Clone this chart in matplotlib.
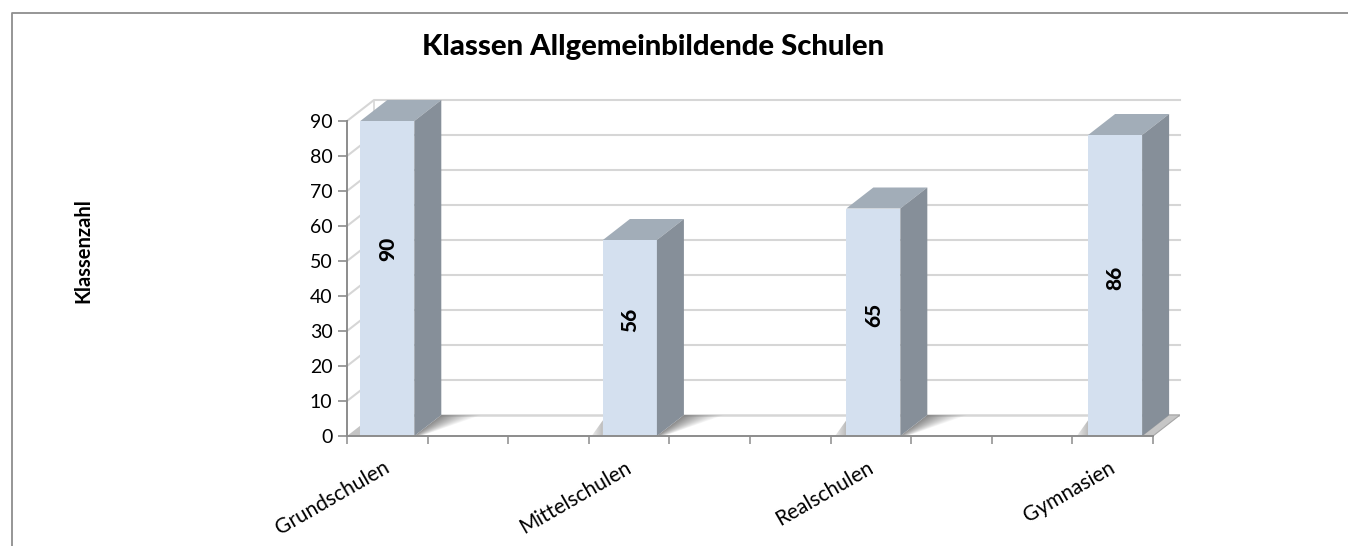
import numpy as np
import matplotlib
matplotlib.use("Agg")
import matplotlib.pyplot as plt
from matplotlib.colors import LinearSegmentedColormap
from matplotlib.patches import Polygon, Rectangle

# Werte
schularten = ["Grundschulen", "Mittelschulen", "Realschulen", "Gymnasien"]
klassen = [90, 56, 65, 86]
positionen = [0, 3.01, 6.03, 9.03]   # dazwischen leere Kategorien
label_y = [53.4, 33.1, 34.6, 45.1]   # Beschriftungen sitzen nicht mittig
n_kategorien = 10
y_ticks = [0, 10, 20, 30, 40, 50, 60, 70, 80, 90]

W, H = 1348, 546
plt.rcParams["font.family"] = ["Lato", "DejaVu Sans"]

fig = plt.figure(figsize=(W / 100, H / 100), dpi=100)

# Achse in Pixeln: x=0 bei 347px, x=10 bei 1153px; y=0 bei 436px, y=90 bei 121px
x0, x1, y0, y90 = 347, 1153, 436, 121
dx_px, dy_px = 27, 21   # Tiefe der 3D-Darstellung
left, right = x0, x1 + dx_px
top = y90 - dy_px
ax = fig.add_axes([left / W, 1 - y0 / H, (right - left) / W, (y0 - top) / H])
px_x = n_kategorien / (x1 - x0)
px_y = 90 / (y0 - y90)
xlim = (0, (right - left) * px_x)
ylim = (0, (y0 - top) * px_y)
dx, dy = dx_px * px_x, dy_px * px_y
xmax = n_kategorien

grid_c = "#D6D6D6"
# Rueckwand, Gitternetz
for v in y_ticks[1:]:
    ax.plot([0, dx, xmax + dx], [v, v + dy, v + dy], color=grid_c, lw=1.5, zorder=1, clip_on=False)
ax.plot([dx, dx], [dy, 90 + dy], color=grid_c, lw=1.2, zorder=1)

# Boden
ax.add_patch(Polygon([(0, 0), (xmax, 0), (xmax + dx, dy), (dx, dy)], fc="#FFFFFF", ec="none", zorder=1.5))
ax.plot([dx, xmax + dx], [dy, dy], color=grid_c, lw=1.8, zorder=2)
ax.add_patch(Polygon([(0, 0), (0.16, 0), (0.16 + dx, dy), (dx, dy)], fc="#C4C4C4", ec="none", zorder=2))
ax.add_patch(Polygon([(xmax - 0.14, 0), (xmax, 0), (xmax + dx, dy), (xmax - 0.14 + dx, dy)],
                     fc="#C6C6C6", ec="#A6A6A6", lw=0.8, zorder=2))

# Schatten neben den Balken, Verlauf schraeg zur Bodenkante
cmap_a = LinearSegmentedColormap.from_list("sha", [(0.5, 0.5, 0.5, 0.9), (0.5, 0.5, 0.5, 0.0)])
breite = 0.67
sx = np.linspace(0, dx + 0.5, 160)
sy = np.linspace(0, dy, 40)
gx, gy = np.meshgrid(sx, sy)
schatten = np.clip((gx - gy / dy * dx) / (0.1 + 0.4 * gy / dy), 0, 1)
for p in positionen[:-1]:
    bx = p + 0.5 + breite / 2
    poly = Polygon([(bx, 0), (bx + dx, dy), (bx + dx + 0.5, dy), (bx + 0.1, 0)], fc="none", ec="none")
    ax.add_patch(poly)
    im = ax.imshow(schatten, extent=(bx, bx + dx + 0.5, 0, dy), origin="lower", cmap=cmap_a,
                   aspect="auto", zorder=2.2, vmin=0, vmax=1)
    im.set_clip_path(poly)
cmap_l = LinearSegmentedColormap.from_list("shl", ["#B8B8B8", "#FFFFFF"])
verlauf = np.linspace(0, 1, 64).reshape(1, -1)
for p in positionen[1:]:
    bx = p + 0.5 - breite / 2
    poly = Polygon([(bx, 0), (bx - 0.14, 0), (bx, dy * 0.75)], fc="none", ec="none")
    ax.add_patch(poly)
    im = ax.imshow(verlauf[:, ::-1], extent=(bx - 0.2, bx, 0, dy), cmap=cmap_l, aspect="auto", zorder=2.2)
    im.set_clip_path(poly)
ax.set_xlim(xlim)
ax.set_ylim(ylim)

# Balken: Vorderseite, Dach, Seite
for p, k, ly in zip(positionen, klassen, label_y):
    a = p + 0.5 - breite / 2
    b = p + 0.5 + breite / 2
    ax.add_patch(Rectangle((a, 0), breite, k, fc="#D4E0EF", ec="none", zorder=3))
    ax.add_patch(Polygon([(a, k), (b, k), (b + dx, k + dy), (a + dx, k + dy)], fc="#A2ADB8", ec="none", zorder=3))
    ax.add_patch(Polygon([(b, 0), (b + dx, dy), (b + dx, k + dy), (b, k)], fc="#868F99", ec="none", zorder=3))
    ax.text(p + 0.5, ly, str(k), rotation=90, ha="center", va="center", fontsize=15,
            fontweight="black", color="black", zorder=4)

# Achsen
for s in ["top", "right"]:
    ax.spines[s].set_visible(False)
for s in ["left", "bottom"]:
    ax.spines[s].set_color("#8C8C8C")
    ax.spines[s].set_linewidth(1.4)
    ax.spines[s].set_zorder(5)
ax.spines["left"].set_bounds(0, 90)
ax.spines["bottom"].set_bounds(0, xmax)
ax.patch.set_visible(False)
ax.set_yticks(y_ticks)
ax.tick_params(axis="y", length=6.5, width=1.2, color="#8C8C8C", labelsize=14, pad=4)
ax.set_xticks(range(n_kategorien + 1))
ax.set_xticklabels([])
ax.tick_params(axis="x", which="major", length=5.5, width=1.1, color="#8C8C8C")
ax.set_xticks([p + 0.45 for p in [0, 3, 6, 9]], minor=True)
ax.set_xticklabels(schularten, minor=True, rotation=30, ha="right", rotation_mode="anchor", fontsize=15)
ax.tick_params(axis="x", which="minor", length=0, pad=15.5)

fig.text(653 / W, 1 - 47.5 / H, "Klassen Allgemeinbildende Schulen", ha="center", va="center",
         fontsize=21.1, fontweight="black")
fig.text(83 / W, 1 - 251 / H, "Klassenzahl", rotation=90, ha="center", va="center",
         fontsize=14.5, fontweight="bold")

# Rahmen der Grafik, nur links und oben sichtbar
rx = [11.5 / W, 11.5 / W, 1]
ry = [0, 1 - 12.5 / H, 1 - 12.5 / H]
fig.add_artist(plt.Line2D(rx, ry, color="#8E8E8E", lw=1.3))

fig.savefig("out.png", dpi=100)
